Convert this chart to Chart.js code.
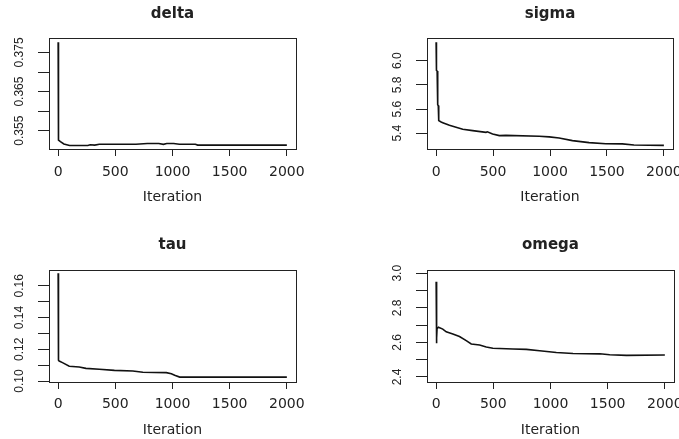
<!DOCTYPE html>
<html>
<head>
<meta charset="utf-8">
<script src="https://cdn.jsdelivr.net/npm/chart.js@4.4.0/dist/chart.umd.min.js"></script>
<style>
  body { margin: 0; background: #fff; }
  canvas { position: absolute; }
</style>
</head>
<body>
<canvas id="delta" width="340" height="220" style="left:0;top:0"></canvas>
<canvas id="sigma" width="339" height="220" style="left:340px;top:0"></canvas>
<canvas id="tau" width="340" height="219" style="left:0;top:220px"></canvas>
<canvas id="omega" width="339" height="219" style="left:340px;top:220px"></canvas>
<script>
// iteration axis
const iterTicks = [0, 500, 1000, 1500, 2000];
const iterRange = [-80, 2080];

// delta trace
const deltaIter = [0, 3, 20, 50, 100, 260, 280, 320, 360, 520, 680, 780, 880, 920, 950, 1010, 1060, 1200, 1220, 2000];
const deltaValues = [0.3776, 0.3526, 0.3522, 0.3516, 0.3512, 0.3512, 0.3514, 0.3513, 0.3515, 0.3515, 0.3515, 0.3517, 0.3517, 0.3515, 0.3517, 0.3517, 0.3515, 0.3515, 0.3513, 0.3513];
const deltaTicks = [0.355, 0.360, 0.365, 0.370, 0.375];
const deltaLabels = ['0.355', '', '0.365', '', '0.375'];
const deltaRange = [0.3503, 0.3787];

// sigma trace
const sigmaIter = [0, 3, 9, 14, 19, 23, 40, 58, 117, 175, 234, 321, 438, 450, 496, 555, 613, 905, 993, 1080, 1197, 1343, 1489, 1635, 1737, 2000];
const sigmaValues = [6.152, 5.92, 5.915, 5.635, 5.63, 5.505, 5.495, 5.488, 5.466, 5.45, 5.433, 5.422, 5.408, 5.412, 5.394, 5.381, 5.383, 5.375, 5.37, 5.361, 5.339, 5.323, 5.314, 5.312, 5.303, 5.30];
const sigmaTicks = [5.4, 5.6, 5.8, 6.0];
const sigmaLabels = ['5.4', '5.6', '5.8', '6.0'];
const sigmaRange = [5.270, 6.188];

// tau trace
const tauIter = [0, 3, 9, 38, 97, 184, 243, 360, 492, 653, 741, 946, 990, 1019, 1063, 2000];
const tauValues = [0.1678, 0.1131, 0.1126, 0.1116, 0.1093, 0.1088, 0.1080, 0.1074, 0.1067, 0.1063, 0.1055, 0.1053, 0.1046, 0.1036, 0.1025, 0.1025];
const tauTicks = [0.10, 0.11, 0.12, 0.13, 0.14, 0.15, 0.16];
const tauLabels = ['0.10', '', '0.12', '', '0.14', '', '0.16'];
const tauRange = [0.0994, 0.1699];

// omega trace
const omegaIter = [0, 2, 4, 6, 8, 20, 58, 88, 146, 204, 263, 307, 380, 438, 496, 672, 789, 905, 1051, 1197, 1431, 1518, 1665, 2000];
const omegaValues = [2.951, 2.595, 2.682, 2.624, 2.68, 2.688, 2.677, 2.661, 2.649, 2.634, 2.610, 2.591, 2.585, 2.573, 2.566, 2.562, 2.560, 2.552, 2.542, 2.536, 2.534, 2.529, 2.525, 2.527];
const omegaTicks = [2.4, 2.5, 2.6, 2.7, 2.8, 2.9, 3.0];
const omegaLabels = ['2.4', '', '2.6', '', '2.8', '', '3.0'];
const omegaRange = [2.371, 3.019];

const ink = '#222';
const tickFont = { family: "'DejaVu Sans'", size: 14 };
const yFont = { family: "'Liberation Sans'", size: 12 };
const yTickLength = 11;

const measureCtx = document.createElement('canvas').getContext('2d');
measureCtx.font = yFont.size + 'px ' + yFont.family;

// drawn box round the plot region, like R's box()
const boxPlugin = {
  id: 'box',
  afterDraw(chart) {
    const { ctx, chartArea } = chart;
    ctx.save();
    ctx.strokeStyle = ink;
    ctx.lineWidth = 1;
    ctx.strokeRect(Math.round(chartArea.left) + 0.5, Math.round(chartArea.top) + 0.5,
      Math.round(chartArea.width), Math.round(chartArea.height));
    ctx.restore();
  },
};

const traceChart = (id, title, iters, values, yTicks, yLabels, yRange, frame) => {
  const widest = Math.max(...yLabels.map(l => measureCtx.measureText(l).width));
  const yPadding = 29 - yTickLength - widest / 2;

  return new Chart(document.getElementById(id), {
    type: 'line',
    data: {
      datasets: [{
        data: iters.map((it, i) => ({ x: it, y: values[i] })),
        borderColor: '#111',
        borderWidth: 1.6,
        pointRadius: 0,
        tension: 0,
        fill: false,
      }],
    },
    options: {
      responsive: false,
      animation: false,
      events: [],
      layout: { autoPadding: false, padding: { left: 0, top: 0, right: frame.right, bottom: 0 } },
      plugins: {
        legend: { display: false },
        tooltip: { enabled: false },
        title: {
          display: true,
          text: title,
          fullSize: false,
          color: ink,
          font: { family: "'DejaVu Sans'", size: 15, weight: 'bold' },
          padding: { top: frame.titleTop, bottom: frame.titleBottom },
        },
      },
      scales: {
        x: {
          type: 'linear',
          min: iterRange[0],
          max: iterRange[1],
          bounds: 'data',
          afterBuildTicks: scale => { scale.ticks = iterTicks.map(v => ({ value: v })); },
          afterFit: scale => {
            scale.height = frame.xHeight;
            scale.paddingLeft = 0;
            scale.paddingRight = 0;
          },
          grid: { drawOnChartArea: false, tickLength: 7, color: ink },
          border: { display: false },
          ticks: {
            color: ink,
            font: tickFont,
            padding: frame.xPad,
            maxRotation: 0,
            autoSkip: false,
            callback: v => String(v),
          },
          title: {
            display: true,
            text: 'Iteration',
            color: ink,
            font: { family: "'DejaVu Sans'", size: 14 },
            padding: { top: 0, bottom: frame.labelBottom },
          },
        },
        y: {
          type: 'linear',
          min: yRange[0],
          max: yRange[1],
          bounds: 'data',
          afterBuildTicks: scale => { scale.ticks = yTicks.map(v => ({ value: v })); },
          afterFit: scale => {
            scale.width = frame.yWidth;
            scale.paddingTop = 0;
            scale.paddingBottom = 0;
          },
          grid: { drawOnChartArea: false, tickLength: yTickLength, color: ink },
          border: { display: false },
          ticks: {
            color: ink,
            font: yFont,
            minRotation: 90,
            maxRotation: 90,
            crossAlign: 'center',
            padding: yPadding,
            autoSkip: false,
            callback: (v, i) => yLabels[i],
          },
        },
      },
    },
    plugins: [boxPlugin],
  });
};

const topLeft = { right: 44, yWidth: 49, xHeight: 71, titleTop: 4.8, titleBottom: 15.2, xPad: 8, labelBottom: 14 };
const topRight = { right: 6, yWidth: 87, xHeight: 71, titleTop: 4.8, titleBottom: 15.2, xPad: 8, labelBottom: 14 };
const bottomLeft = { right: 44, yWidth: 49, xHeight: 57, titleTop: 16, titleBottom: 16, xPad: 6.6, labelBottom: 0 };
const bottomRight = { right: 5, yWidth: 87, xHeight: 57, titleTop: 16, titleBottom: 16, xPad: 6.6, labelBottom: 0 };

traceChart('delta', 'delta', deltaIter, deltaValues, deltaTicks, deltaLabels, deltaRange, topLeft);
traceChart('sigma', 'sigma', sigmaIter, sigmaValues, sigmaTicks, sigmaLabels, sigmaRange, topRight);
traceChart('tau', 'tau', tauIter, tauValues, tauTicks, tauLabels, tauRange, bottomLeft);
traceChart('omega', 'omega', omegaIter, omegaValues, omegaTicks, omegaLabels, omegaRange, bottomRight);
</script>
</body>
</html>
